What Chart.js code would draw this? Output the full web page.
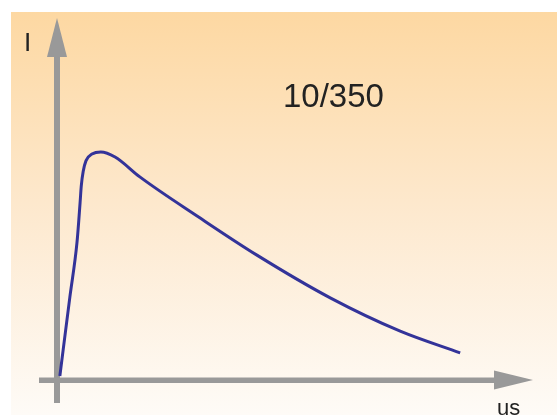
<!DOCTYPE html>
<html>
<head>
<meta charset="utf-8">
<script src="https://cdn.jsdelivr.net/npm/chart.js@4/dist/chart.umd.min.js"></script>
<style>
  html, body { margin: 0; padding: 0; background: #fff; }
  #wrap { width: 557px; height: 415px; }
</style>
</head>
<body>
<div id="wrap"><canvas id="chart" width="557" height="415"></canvas></div>
<script>
// impulse curve (arbitrary units, 0-100 both ways)
let timeValues = [0.6, 2.7, 4.2, 4.85, 5.1, 5.5, 6.1, 7.35, 9.2, 12.2, 17.4, 30.0, 42.0, 57.4, 72.1, 84.7];
let currentValues = [1.1, 22.9, 38.0, 49.0, 53.6, 57.6, 60.6, 62.4, 63.0, 61.6, 56.1, 44.8, 34.5, 22.7, 13.5, 7.5];
let yLabel = 'I';
let xLabel = 'us';
let waveLabel = '10/350';

let points = timeValues.map(function (t, i) {
    return { x: t, y: currentValues[i] };
});

// background, arrows and labels
var decor = {
    id: 'decor',
    beforeDraw: function (chart) {
        var ctx = chart.ctx;
        var g = ctx.createLinearGradient(0, 12, 0, 415);
        g.addColorStop(0, '#fdd8a2');
        g.addColorStop(0.5, '#fde9cf');
        g.addColorStop(1, '#fefbf7');
        ctx.save();
        ctx.fillStyle = g;
        ctx.fillRect(11, 12, 546, 403);

        var x0 = chart.scales.x.getPixelForValue(0);
        var y0 = chart.scales.y.getPixelForValue(0);
        var area = chart.chartArea;

        ctx.fillStyle = '#999999';
        // y axis
        ctx.fillRect(x0 - 3, area.top + 38, 6, 403 - area.top - 38);
        ctx.beginPath();
        ctx.moveTo(x0, area.top);
        ctx.lineTo(x0 - 10, area.top + 39);
        ctx.lineTo(x0 + 10, area.top + 39);
        ctx.closePath();
        ctx.fill();
        // x axis
        ctx.fillRect(39, y0 - 2.5, area.right - 38 - 39, 5.5);
        ctx.beginPath();
        ctx.moveTo(area.right, y0);
        ctx.lineTo(area.right - 39, y0 - 9.5);
        ctx.lineTo(area.right - 39, y0 + 9.5);
        ctx.closePath();
        ctx.fill();

        ctx.fillStyle = '#222222';
        ctx.font = '33px "Liberation Sans", Arial, sans-serif';
        ctx.textBaseline = 'alphabetic';
        ctx.fillText(waveLabel, 283, 107);
        ctx.font = '26px "Liberation Sans", Arial, sans-serif';
        ctx.fillText(yLabel, 24, 51);
        ctx.font = '22px "Liberation Sans", Arial, sans-serif';
        ctx.fillText(xLabel, 497, 415);
        ctx.restore();
    }
};

var ctx = document.getElementById('chart').getContext('2d');
var chart = new Chart(ctx, {
    type: 'line',
    data: {
        datasets: [{
            data: points,
            borderColor: '#333399',
            borderWidth: 3,
            pointRadius: 0,
            fill: false,
            cubicInterpolationMode: 'monotone'
        }]
    },
    options: {
        responsive: false,
        animation: false,
        layout: { padding: { left: 57, right: 24, top: 18, bottom: 35 } },
        plugins: { legend: { display: false }, tooltip: { enabled: false } },
        scales: {
            x: { type: 'linear', min: 0, max: 100, display: false },
            y: { min: 0, max: 100, display: false }
        }
    },
    plugins: [decor]
});
</script>
</body>
</html>
